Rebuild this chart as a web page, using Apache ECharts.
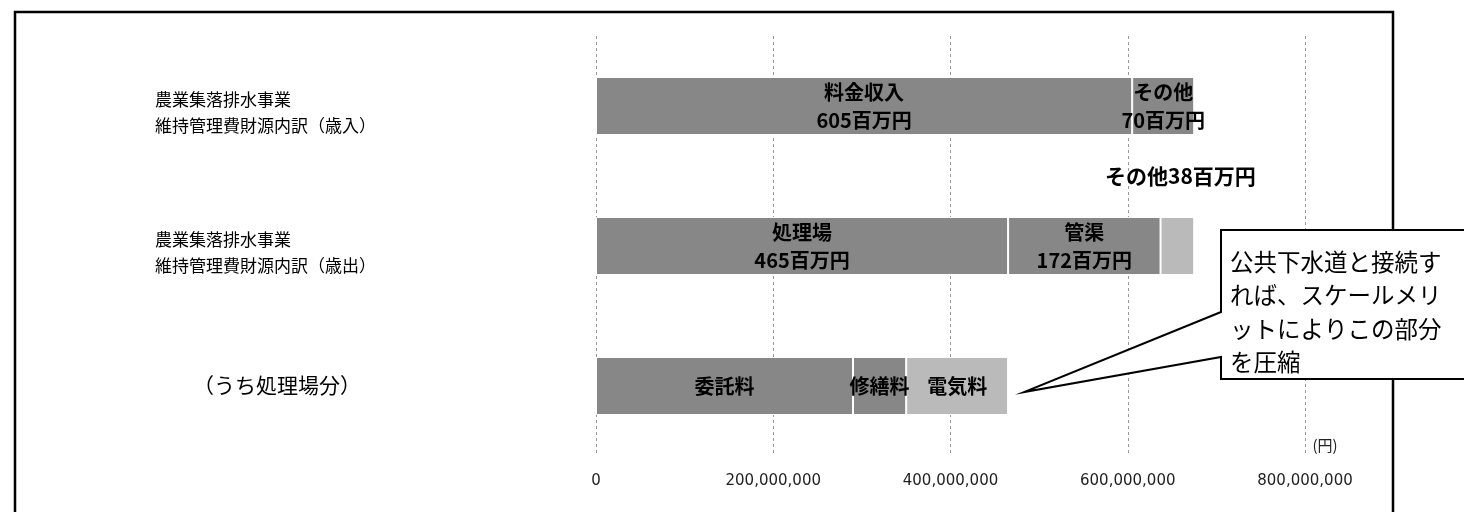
<!DOCTYPE html>
<html>
<head>
<meta charset="utf-8">
<script src="https://cdn.jsdelivr.net/npm/echarts@6/dist/echarts.min.js"></script>
<style>
html,body{margin:0;padding:0;background:#fff;}
#c{width:1464px;height:512px;}
</style>
</head>
<body>
<div id="c"></div>
<script>
// ---- data (values in 百万円) ----
const categories = [
  '農業集落排水事業\n維持管理費財源内訳（歳入）',
  '農業集落排水事業\n維持管理費財源内訳（歳出）',
  '（うち処理場分）'
];
const seg1Names  = ['料金収入', '処理場', '委託料'];
const seg1Values = [605, 465, 290];
const seg2Names  = ['その他', '管渠', '修繕料'];
const seg2Values = [70, 172, 60];
const seg3Names  = [null, 'その他', '電気料'];
const seg3Values = [null, 38, 115];
const showAmount = [true, true, false];
const xTicks = [0, 200000000, 400000000, 600000000, 800000000];
const unitLabel = '(円)';
const calloutText = '公共下水道と接続す\nれば、スケールメリ\nットによりこの部分\nを圧縮';

const FONT = '"Noto Sans CJK JP", "Noto Sans", sans-serif';
const DARK = '#878787', LIGHT = '#bababa';

function buildData(values, names, opts) {
  return values.map((v, i) => {
    if (v == null) return null;
    const item = { value: v * 1e6, name: names[i] };
    if (opts && opts[i]) item.label = opts[i];
    return item;
  });
}
function labelText(names, values) {
  return p => {
    const i = p.dataIndex;
    if (!names[i]) return '';
    return showAmount[i] ? names[i] + '\n' + values[i] + '百万円' : names[i];
  };
}
const insideLabel = {
  show: true, position: 'inside', color: '#000', fontFamily: FONT,
  fontWeight: 'bold', fontSize: 20, lineHeight: 28
};

const chart = echarts.init(document.getElementById('c'));
chart.setOption({
  backgroundColor: '#fff',
  animation: false,
  grid: { left: 596, right: 159, top: 36, bottom: 56 },
  xAxis: {
    type: 'value', min: xTicks[0], max: xTicks[xTicks.length - 1],
    interval: xTicks[1] - xTicks[0],
    axisLine: { show: false }, axisTick: { show: false },
    splitLine: { show: true, lineStyle: { color: '#999', type: [3, 3], width: 1 } },
    axisLabel: {
      margin: 18, fontFamily: '"DejaVu Sans", sans-serif', fontSize: 15, color: '#222',
      formatter: v => v.toLocaleString('en-US')
    }
  },
  yAxis: {
    type: 'category', inverse: true, data: categories,
    axisLine: { show: false }, axisTick: { show: false },
    axisLabel: {
      align: 'left', margin: 441, fontFamily: FONT, fontSize: 17, lineHeight: 26, color: '#000',
      padding: [14, 0, 0, 0],
      formatter: (v, i) => i === 2 ? '{p|' + v + '}' : v,
      rich: { p: { fontFamily: FONT, fontSize: 21, color: '#000', padding: [0, 0, 16, 38] } }
    }
  },
  series: [
    {
      type: 'bar', stack: 'a', barWidth: 58,
      itemStyle: { color: DARK, borderColor: '#fff', borderWidth: 1 },
      label: Object.assign({}, insideLabel, { formatter: labelText(seg1Names, seg1Values) }),
      data: buildData(seg1Values, seg1Names)
    },
    {
      type: 'bar', stack: 'a', barWidth: 58,
      itemStyle: { color: DARK, borderColor: '#fff', borderWidth: 1 },
      label: Object.assign({}, insideLabel, { formatter: labelText(seg2Names, seg2Values) }),
      data: buildData(seg2Values, seg2Names)
    },
    {
      type: 'bar', stack: 'a', barWidth: 58,
      itemStyle: { color: LIGHT, borderColor: '#fff', borderWidth: 1 },
      label: Object.assign({}, insideLabel, {
        formatter: p => {
          const i = p.dataIndex;
          if (!seg3Names[i]) return '';
          return i === 1 ? seg3Names[i] + seg3Values[i] + '百万円' : seg3Names[i];
        }
      }),
      data: buildData(seg3Values, seg3Names, [null, {
        position: 'top', offset: [3, -22], fontSize: 21
      }, null])
    }
  ]
});

// annotation graphics (callout points at end of the 処理場分 bar)
const total3 = (seg1Values[2] + seg2Values[2] + seg3Values[2]) * 1e6;
const tipX = chart.convertToPixel({ xAxisIndex: 0 }, total3) + 16;
const tipY = chart.convertToPixel({ yAxisIndex: 0 }, 2) + 6;
chart.setOption({
  graphic: [
    {
      type: 'rect', z: 50, silent: true,
      shape: { x: 15, y: 12, width: 1378, height: 530 },
      style: { fill: 'none', stroke: '#000', lineWidth: 2.5 }
    },
    {
      type: 'polygon', z: 60, silent: true,
      shape: { points: [[1221, 230], [1500, 230], [1500, 379], [1221, 379], [1221, 357], [tipX, tipY], [1221, 312]] },
      style: { fill: '#fff', stroke: '#000', lineWidth: 2 }
    },
    {
      type: 'text', z: 61, silent: true, x: 1230, y: 245,
      style: { text: calloutText, fontFamily: FONT, fontSize: 23.5, lineHeight: 33.5, fill: '#000', verticalAlign: 'top' }
    },
    {
      type: 'text', z: 61, silent: true, x: 1325, y: 445,
      style: { text: unitLabel, fontFamily: FONT, fontSize: 15, fill: '#222', align: 'center', verticalAlign: 'middle' }
    }
  ]
});
</script>
</body>
</html>
